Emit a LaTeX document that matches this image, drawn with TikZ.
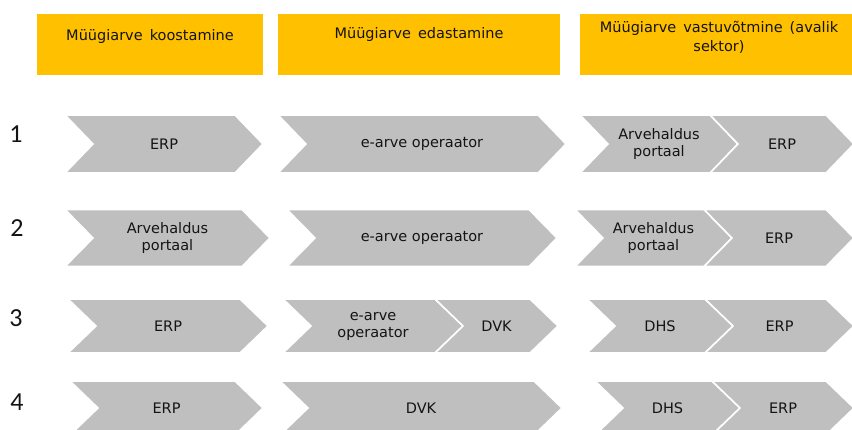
\documentclass[tikz,border=0pt]{standalone}
\usepackage{fontspec}
\setmainfont{DejaVu Sans}
\newfontfamily\numfont{Carlito}
\definecolor{hdryellow}{HTML}{FFC000}
\definecolor{chevgray}{HTML}{BFBFBF}
\definecolor{txtdark}{HTML}{141414}
\newcommand\chv[6]{% name, left x, tip x, centre y, half height, text
  \filldraw[chevshape] (#2,#4-#5) -- (#3-28,#4-#5) -- (#3,#4) -- (#3-28,#4+#5) -- (#2,#4+#5) -- (#2+28,#4) -- cycle;
  \node[chevtext] (#1) at ({(#2+#3)/2},#4) {#6};}
\tikzset{
  chevshape/.style={fill=chevgray, draw=white, line width=1.6pt, line join=miter},
  chevtext/.style={font=\fontsize{14.5}{17}\selectfont, text=txtdark, align=center, inner sep=0pt},
  hdrbox/.style={fill=hdryellow},
  hdrtext/.style={font=\fontsize{14.5}{19}\selectfont, text=txtdark, align=center, inner sep=0pt},
  rownum/.style={font=\numfont\fontsize{26}{26}\selectfont, text=txtdark, inner sep=0pt}
}
\begin{document}
\begin{tikzpicture}[x=1pt,y=-1pt]
\useasboundingbox (0,0) rectangle (852,430);
% headers
\fill[hdrbox] (37,14) rectangle (263,75);
\fill[hdrbox] (278,14) rectangle (560,75);
\fill[hdrbox] (580,14) rectangle (860,75);
\node[hdrtext] (h1) at (150,37) {Müügiarve\, koostamine};
\node[hdrtext] (h2) at (419,35) {Müügiarve\, edastamine};
\node[hdrtext] (h3) at (719,37.5) {Müügiarve\, vastuvõtmine\, (avalik\\sektor)};
% row numbers
\node[rownum] (n1) at (16,134) {1};
\node[rownum] (n2) at (17,228) {2};
\node[rownum] (n3) at (16,318) {3};
\node[rownum] (n4) at (17,402) {4};
% row 1
\chv{r1a}{65}{263}{144}{29}{ERP}
\chv{r1b}{278}{566}{144}{29}{e-arve operaator}
\chv{r1c}{580}{738}{144}{29}{Arvehaldus\\portaal}
\chv{r1d}{710}{854}{144}{29}{ERP}
% row 2
\chv{r2a}{65}{270}{238}{28.5}{Arvehaldus\\portaal}
\chv{r2b}{287}{557}{238}{28.5}{e-arve operaator}
\chv{r2c}{575}{732}{238}{28.5}{Arvehaldus\\portaal}
\chv{r2d}{704}{854}{238}{28.5}{ERP}
% row 3
\chv{r3a}{68}{268}{326}{27}{ERP}
\chv{r3b}{283}{463}{326}{27}{e-arve\\operaator}
\chv{r3c}{435}{558}{326}{27}{DVK}
\chv{r3d}{587}{733}{326}{27}{DHS}
\chv{r3e}{705}{854}{326}{27}{ERP}
% row 4
\chv{r4a}{70}{263}{408}{27}{ERP}
\chv{r4b}{280}{562}{408}{27}{DVK}
\chv{r4c}{595}{740}{408}{27}{DHS}
\chv{r4d}{712}{854}{408}{27}{ERP}
\end{tikzpicture}
\end{document}
